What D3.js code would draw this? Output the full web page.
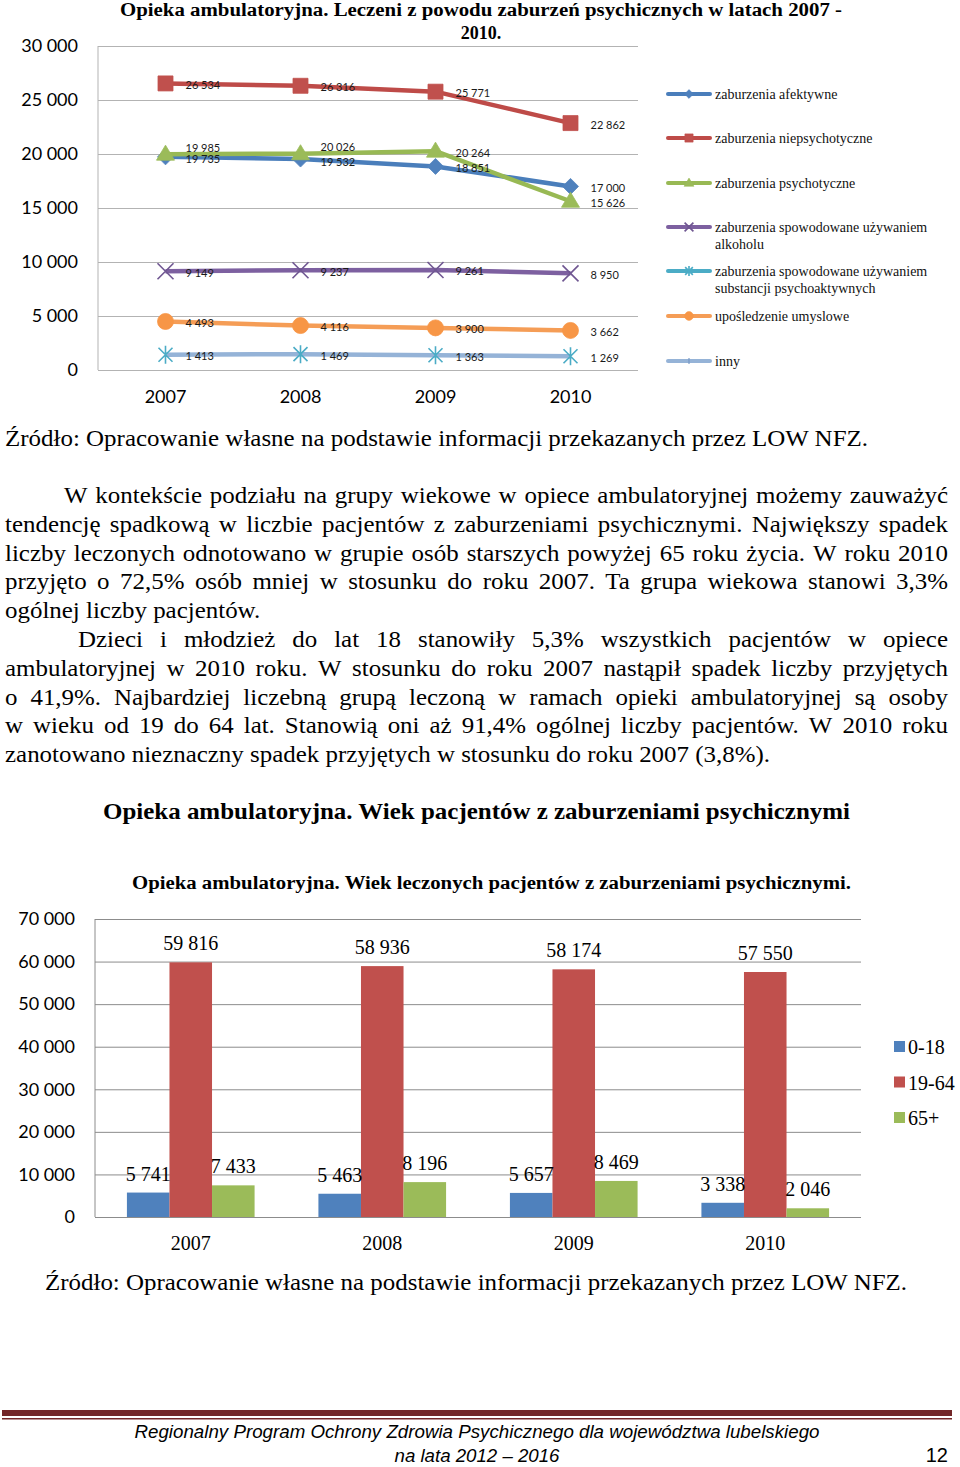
<!DOCTYPE html>
<meta charset="utf-8">
<style type="text/css">
body { margin: 0; background: #fff; }
svg { display: block; }
.serif { font-family: "Liberation Serif", "Times New Roman", serif; }
.sans { font-family: Lato, "Open Sans", sans-serif; }
.grid line { stroke: #b3b3b3; stroke-width: 1px; }
.grid2 line { stroke: #8c8c8c; stroke-width: 1px; }
.grid text, .grid2 text { font-family: Lato, sans-serif; font-size: 18px; fill: #000; }
</style>
<head>
  <script src="https://cdnjs.cloudflare.com/ajax/libs/d3/7.8.5/d3.min.js"></script>
</head>
<body>
<div class="g-chart"></div>
<script type="text/javascript">

// ---- data: line chart (patients by disorder) ----
var years = ["2007", "2008", "2009", "2010"];
var seriesNames = [
  "zaburzenia afektywne",
  "zaburzenia niepsychotyczne",
  "zaburzenia psychotyczne",
  "zaburzenia spowodowane używaniem alkoholu",
  "zaburzenia spowodowane używaniem substancji psychoaktywnych",
  "upośledzenie umyslowe",
  "inny"
];
var afektywne       = [19735, 19532, 18851, 17000];
var niepsychotyczne = [26534, 26316, 25771, 22862];
var psychotyczne    = [19985, 20026, 20264, 15626];
var alkohol         = [9149, 9237, 9261, 8950];
var substancje      = [1413, 1469, 1363, 1269];
var uposledzenie    = [4493, 4116, 3900, 3662];
var lineTicks = [0, 5000, 10000, 15000, 20000, 25000, 30000];

// ---- data: bar chart (age groups) ----
var ageGroups = ["0-18", "19-64", "65+"];
var age0_18  = [5741, 5463, 5657, 3338];
var age19_64 = [59816, 58936, 58174, 57550];
var age65    = [7433, 8196, 8469, 2046];
var barTicks = [0, 10000, 20000, 30000, 40000, 50000, 60000, 70000];

var fmt = d3.formatLocale({decimal: ",", thousands: " ", grouping: [3], currency: ["", ""]}).format(",d");

var svg = d3.select(".g-chart").append("svg")
  .attr("width", 960)
  .attr("height", 1467);

svg.append("rect").attr("width", 960).attr("height", 1467).attr("fill", "#fff");

// marker shapes, Excel style
function markerPath(type) {
  if (type == "diamond") return "M0,-8L8,0L0,8L-8,0Z";
  if (type == "square") return "M-7.5,-7.5H7.5V7.5H-7.5Z";
  if (type == "triangle") return "M0,-9L9,6L-9,6Z";
  if (type == "x") return "M-8,-8L8,8M-8,8L8,-8";
  if (type == "star") return "M-7,-7L7,7M-7,7L7,-7M0,-9V9";
  if (type == "circle") return d3.symbol().type(d3.symbolCircle).size(201)();
  if (type == "tick") return "M0,-5V5";
  return "";
}
var openMarkers = {x: true, star: true, tick: true};

var series = [
  {name: seriesNames[0], values: afektywne, line: "#4a7ebb", mark: "#4f81bd", shape: "diamond"},
  {name: seriesNames[1], values: niepsychotyczne, line: "#be4b48", mark: "#c0504d", shape: "square"},
  {name: seriesNames[2], values: psychotyczne, line: "#98b954", mark: "#9bbb59", shape: "triangle"},
  {name: seriesNames[3], values: alkohol, line: "#7d60a0", mark: "#6f5691", shape: "x"},
  {name: seriesNames[4], values: substancje, line: "#95b3d7", mark: "#4bacc6", shape: "star"},
  {name: seriesNames[5], values: uposledzenie, line: "#f59d56", mark: "#f79646", shape: "circle"}
];
var legendItems = [
  {name: seriesNames[0], line: "#4a7ebb", mark: "#4f81bd", shape: "diamond"},
  {name: seriesNames[1], line: "#be4b48", mark: "#c0504d", shape: "square"},
  {name: seriesNames[2], line: "#98b954", mark: "#9bbb59", shape: "triangle"},
  {name: seriesNames[3], line: "#7d60a0", mark: "#6f5691", shape: "x"},
  {name: seriesNames[4], line: "#4bacc6", mark: "#4bacc6", shape: "star"},
  {name: seriesNames[5], line: "#f59d56", mark: "#f79646", shape: "circle"},
  {name: seriesNames[6], line: "#95b3d7", mark: "#7f9fca", shape: "tick"}
];

// ================= top line chart =================
var x1 = d3.scaleBand().domain(years).range([98, 638]);
var y1 = d3.scaleLinear().domain([0, 30000]).range([370, 46]);

svg.append("text").attr("class", "serif")
  .attr("x", 481).attr("y", 16).attr("text-anchor", "middle")
  .attr("font-size", 18).attr("font-weight", "bold")
  .attr("textLength", 722).attr("lengthAdjust", "spacingAndGlyphs")
  .text("Opieka ambulatoryjna. Leczeni z powodu zaburzeń psychicznych w latach 2007 -");
svg.append("text").attr("class", "serif")
  .attr("x", 481).attr("y", 39).attr("text-anchor", "middle")
  .attr("font-size", 18).attr("font-weight", "bold")
  .text("2010.");

var gy1 = svg.append("g").attr("class", "grid")
  .attr("transform", "translate(98,0)")
  .call(d3.axisLeft(y1).tickValues(lineTicks).tickFormat(fmt).tickSize(-540).tickPadding(20));
gy1.select(".domain").remove();

svg.append("line").attr("x1", 98).attr("x2", 98).attr("y1", 46).attr("y2", 370)
  .attr("stroke", "#b3b3b3");

var gx1 = svg.append("g").attr("class", "grid")
  .attr("transform", "translate(0,370)")
  .call(d3.axisBottom(x1).tickSize(0).tickPadding(20));
gx1.select(".domain").remove();

var cx = function(i) { return x1(years[i]) + x1.bandwidth() / 2; };
var lineGen = d3.line().x(function(d, i) { return cx(i); }).y(function(d) { return y1(d); });

series.forEach(function(s) {
  var g = svg.append("g");
  g.append("path").datum(s.values)
    .attr("d", lineGen)
    .attr("fill", "none")
    .attr("stroke", s.line)
    .attr("stroke-width", 4.5)
    .attr("stroke-linejoin", "round");
  g.selectAll("path.m").data(s.values).enter().append("path")
    .attr("class", "m")
    .attr("transform", function(d, i) { return "translate(" + cx(i) + "," + y1(d) + ")"; })
    .attr("d", markerPath(s.shape))
    .attr("fill", openMarkers[s.shape] ? "none" : s.mark)
    .attr("stroke", s.mark)
    .attr("stroke-width", openMarkers[s.shape] ? 1.6 : 0.8);
});

// data labels: nudge colliding labels (green above blue)
series.forEach(function(s, si) {
  s.values.forEach(function(v, i) {
    var ly = y1(v) + 1;
    if (si == 0 || si == 2) {
      var other = si == 0 ? psychotyczne[i] : afektywne[i];
      var diff = y1(other) - y1(v);
      if (Math.abs(diff) < 8) ly = y1(v) + (diff < 0 ? 2 : -7);
    }
    svg.append("text").attr("class", "sans")
      .attr("x", cx(i) + 20).attr("y", ly)
      .attr("dominant-baseline", "central")
      .attr("font-size", 11).attr("fill", "#1a1a1a")
      .text(fmt(v));
  });
});

// legend
var legendY = [94, 138, 183, 227, 271, 316, 361];
legendItems.forEach(function(it, i) {
  var g = svg.append("g").attr("transform", "translate(0," + legendY[i] + ")");
  g.append("line").attr("x1", 668).attr("x2", 710)
    .attr("stroke", it.line).attr("stroke-width", 4).attr("stroke-linecap", "round");
  g.append("path")
    .attr("transform", "translate(689,0) scale(0.55)")
    .attr("d", markerPath(it.shape))
    .attr("fill", openMarkers[it.shape] ? "none" : it.mark)
    .attr("stroke", it.mark)
    .attr("stroke-width", openMarkers[it.shape] ? 3 : 1);
  var words = it.name.split(" ");
  var lines = it.name.length > 40 ? [words.slice(0, 3).join(" "), words.slice(3).join(" ")] : [it.name];
  lines.forEach(function(t, k) {
    g.append("text").attr("class", "serif")
      .attr("x", 715).attr("y", 5 + k * 17)
      .attr("font-size", 14).attr("fill", "#111")
      .text(t);
  });
});

// ================= text block =================
function textLine(str, x, y, size, opts) {
  var t = svg.append("text").attr("class", "serif")
    .attr("x", x).attr("y", y).attr("font-size", size).attr("fill", "#000")
    .text(str);
  if (opts && opts.bold) t.attr("font-weight", "bold");
  if (opts && opts.len) t.attr("textLength", opts.len).attr("lengthAdjust", "spacingAndGlyphs");
  return t;
}

function measure(str, size) {
  var t = svg.append("text").attr("class", "serif").attr("font-size", size).text(str);
  var w = t.node().getComputedTextLength();
  t.remove();
  return w;
}

var paraSize = 23;
// glyph width factor so the face matches the width of the scanned Times
var lastLine = "zanotowano nieznaczny spadek przyjętych w stosunku do roku 2007 (3,8%).";
var widthK = 765 / measure(lastLine, paraSize);

// justified paragraph line: spread words between xa and xb
function justifyLine(str, xa, xb, y, size) {
  var words = str.split(" ");
  var g = svg.append("g");
  var widths = words.map(function(w) { return measure(w, size) * widthK; });
  var gap = (xb - xa - d3.sum(widths)) / (words.length - 1);
  var xpos = xa;
  words.forEach(function(w, i) {
    g.append("text").attr("class", "serif")
      .attr("x", xpos).attr("y", y).attr("font-size", size).attr("fill", "#000")
      .attr("textLength", widths[i]).attr("lengthAdjust", "spacingAndGlyphs")
      .text(w);
    xpos += widths[i] + gap;
  });
}

textLine("Źródło: Opracowanie własne na podstawie informacji przekazanych przez LOW NFZ.", 5, 446, 23, {len: 863});

var para = [
  {t: "W kontekście podziału na grupy wiekowe w opiece ambulatoryjnej możemy zauważyć", x: 64},
  {t: "tendencję spadkową w liczbie pacjentów z zaburzeniami psychicznymi. Największy spadek", x: 5},
  {t: "liczby leczonych odnotowano w grupie osób starszych powyżej 65 roku życia. W roku 2010", x: 5},
  {t: "przyjęto o 72,5% osób mniej w stosunku do roku 2007. Ta grupa wiekowa stanowi 3,3%", x: 5},
  {t: "ogólnej liczby pacjentów.", x: 5, last: true},
  {t: "Dzieci i młodzież do lat 18 stanowiły 5,3% wszystkich pacjentów w opiece", x: 78},
  {t: "ambulatoryjnej w 2010 roku. W stosunku do roku 2007 nastąpił spadek liczby przyjętych", x: 5},
  {t: "o 41,9%. Najbardziej liczebną grupą leczoną w ramach opieki ambulatoryjnej są osoby", x: 5},
  {t: "w wieku od 19 do 64 lat. Stanowią oni aż 91,4% ogólnej liczby pacjentów. W 2010 roku", x: 5},
  {t: lastLine, x: 5, last: true}
];
para.forEach(function(p, i) {
  var y = 503 + i * 28.8;
  if (p.last) textLine(p.t, p.x, y, paraSize, {len: measure(p.t, paraSize) * widthK});
  else justifyLine(p.t, p.x, 948, y, paraSize);
});

textLine("Opieka ambulatoryjna. Wiek pacjentów z zaburzeniami psychicznymi", 103, 819, 23, {bold: true, len: 747});

// ================= bottom bar chart =================
var x2 = d3.scaleBand().domain(years).range([95, 861]);
var x2sub = d3.scaleBand().domain(ageGroups).range([0, x2.bandwidth()]).paddingOuter(0.75);
var y2 = d3.scaleLinear().domain([0, 70000]).range([1217, 919]);
var barColors = d3.scaleOrdinal().domain(ageGroups).range(["#4f81bd", "#c0504d", "#9bbb59"]);
var barSeries = [age0_18, age19_64, age65];

textLine("Opieka ambulatoryjna. Wiek leczonych pacjentów z zaburzeniami psychicznymi.", 132, 889, 18, {bold: true, len: 719});

var gy2 = svg.append("g").attr("class", "grid2")
  .attr("transform", "translate(95,0)")
  .call(d3.axisLeft(y2).tickValues(barTicks).tickFormat(fmt).tickSize(-766).tickPadding(20));
gy2.select(".domain").remove();
svg.append("line").attr("x1", 95).attr("x2", 95).attr("y1", 919).attr("y2", 1217)
  .attr("stroke", "#8c8c8c");

var rows = [];
years.forEach(function(yr, i) {
  ageGroups.forEach(function(ag, k) {
    rows.push({year: yr, group: ag, value: barSeries[k][i]});
  });
});

svg.append("g").selectAll("rect").data(rows).enter().append("rect")
  .attr("x", function(d) { return x2(d.year) + x2sub(d.group); })
  .attr("width", x2sub.bandwidth())
  .attr("y", function(d) { return y2(d.value); })
  .attr("height", function(d) { return y2(0) - y2(d.value); })
  .attr("fill", function(d) { return barColors(d.group); });

svg.append("g").selectAll("text").data(rows).enter().append("text")
  .attr("class", "serif")
  .attr("x", function(d) { return x2(d.year) + x2sub(d.group) + x2sub.bandwidth() / 2; })
  .attr("y", function(d) { return y2(d.value) - 12; })
  .attr("text-anchor", "middle")
  .attr("font-size", 20)
  .text(function(d) { return fmt(d.value); });

var gx2 = svg.append("g")
  .attr("transform", "translate(0,1217)")
  .call(d3.axisBottom(x2).tickSize(0).tickPadding(19));
gx2.select(".domain").remove();
gx2.selectAll("text").attr("class", "serif").attr("font-size", 20).attr("fill", "#000");

// bar legend
ageGroups.forEach(function(ag, k) {
  var ly = 1047 + k * 35.5;
  svg.append("rect").attr("x", 894).attr("y", ly - 6).attr("width", 11).attr("height", 11)
    .attr("fill", barColors(ag));
  svg.append("text").attr("class", "serif")
    .attr("x", 908).attr("y", ly + 7).attr("font-size", 20).text(ag);
});

textLine("Źródło: Opracowanie własne na podstawie informacji przekazanych przez LOW NFZ.", 45, 1290, 23, {len: 862});

// ================= footer =================
svg.append("rect").attr("x", 2).attr("y", 1410).attr("width", 950).attr("height", 6).attr("fill", "#722628");
svg.append("rect").attr("x", 2).attr("y", 1418).attr("width", 950).attr("height", 1.5).attr("fill", "#722628");

svg.append("text")
  .attr("x", 477).attr("y", 1438).attr("text-anchor", "middle")
  .attr("font-family", "'Liberation Sans Narrow', 'Liberation Sans', Arial, sans-serif")
  .attr("font-style", "italic").attr("font-size", 18)
  .attr("textLength", 685).attr("lengthAdjust", "spacingAndGlyphs")
  .text("Regionalny Program Ochrony Zdrowia Psychicznego dla województwa lubelskiego");
svg.append("text")
  .attr("x", 477).attr("y", 1462).attr("text-anchor", "middle")
  .attr("font-family", "'Liberation Sans Narrow', 'Liberation Sans', Arial, sans-serif")
  .attr("font-style", "italic").attr("font-size", 18)
  .attr("textLength", 165).attr("lengthAdjust", "spacingAndGlyphs")
  .text("na lata 2012 – 2016");
svg.append("text")
  .attr("x", 948).attr("y", 1462).attr("text-anchor", "end")
  .attr("font-family", "'Liberation Sans Narrow', 'Liberation Sans', Arial, sans-serif")
  .attr("font-size", 20)
  .text("12");

</script>
</body>
